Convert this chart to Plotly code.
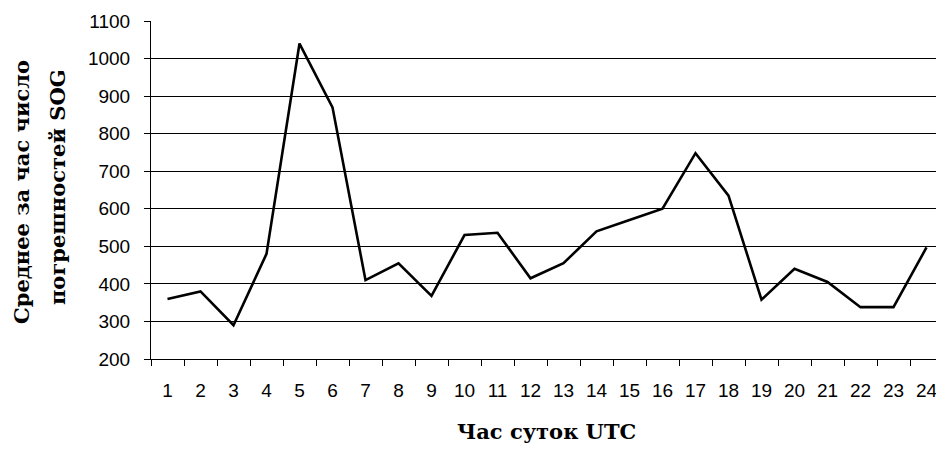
import plotly.graph_objects as go

hours = [str(h) for h in range(1, 25)]
sog_errors = [360, 380, 290, 480, 1040, 870, 410, 455, 368, 530, 536, 415,
              455, 540, 570, 600, 748, 635, 358, 440, 405, 338, 338, 497]

y_ticks = list(range(200, 1101, 100))
x_title = "Час суток UTC"
y_title_1 = "Среднее за час число"
y_title_2 = "погрешностей SOG"

# page body has an 8px default margin; compensate so the plot lands where the reference has it
OFF = 8
W, H = 944 - OFF, 449 - OFF
PL, PT, PR, PB = 151, 21, 943, 359          # target plot-area edges in window pixels
L, T = PL - OFF, PT - OFF
R = W - (PR - OFF)
B = H - (PB - OFF)
pw = PR - PL
ph = PB - PT


def px_to_paper(xp, yp):
    return (xp - PL) / pw, (PB - yp) / ph


fig = go.Figure()
fig.add_trace(go.Scatter(
    x=hours, y=sog_errors, mode="lines",
    line=dict(color="black", width=2.6),
    showlegend=False, hoverinfo="x+y",
))

tickfont = dict(family="Liberation Sans, Arial, sans-serif", size=19, color="black")
titlefont = dict(family="DejaVu Serif, serif", size=21, color="black")

xt = px_to_paper(546, 432)
y1 = px_to_paper(21, 192)
y2 = px_to_paper(58, 187)

fig.update_layout(
    width=W, height=H,
    margin=dict(l=L, r=R, t=T, b=B),
    paper_bgcolor="white", plot_bgcolor="white",
    xaxis=dict(
        type="category", range=[-0.5, len(hours) - 0.5],
        tickson="boundaries", ticks="outside", ticklen=6,
        tickcolor="black", tickwidth=1, showline=True, linecolor="black", linewidth=1,
        showgrid=False, tickfont=tickfont, ticklabelstandoff=14, fixedrange=True,
    ),
    yaxis=dict(
        range=[200, 1100], tickvals=y_ticks, ticks="outside", ticklen=6,
        tickcolor="black", tickwidth=1, showline=True, linecolor="black", linewidth=1,
        showgrid=True, gridcolor="black", gridwidth=1, zeroline=False,
        tickfont=tickfont, ticklabelstandoff=10, fixedrange=True,
    ),
    annotations=[
        dict(text="<b>%s</b>" % x_title, xref="paper", yref="paper",
             x=xt[0], y=xt[1], xanchor="center", yanchor="middle",
             showarrow=False, font=titlefont),
        dict(text="<b>%s</b>" % y_title_1, xref="paper", yref="paper",
             x=y1[0], y=y1[1], xanchor="center", yanchor="middle",
             textangle=-90, showarrow=False, font=titlefont),
        dict(text="<b>%s</b>" % y_title_2, xref="paper", yref="paper",
             x=y2[0], y=y2[1], xanchor="center", yanchor="middle",
             textangle=-90, showarrow=False, font=titlefont),
    ],
)

fig.write_html("out.html")
